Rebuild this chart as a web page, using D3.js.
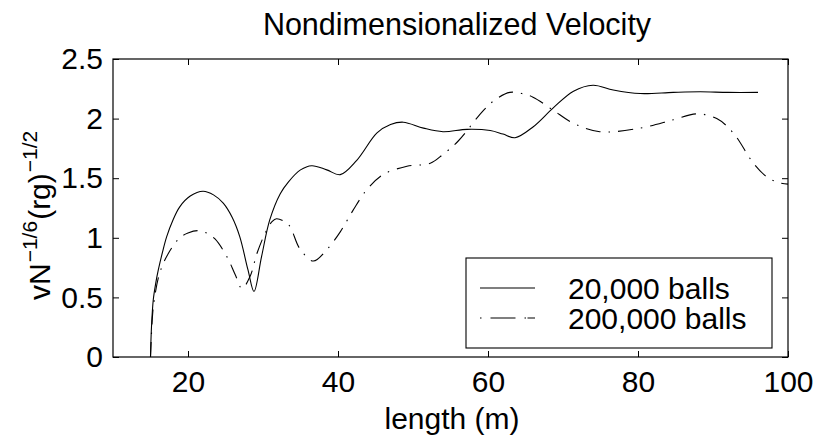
<!DOCTYPE html>
<meta charset="utf-8">
<style>
body { margin: 0; background: #fff; }
text { font-family: "Liberation Sans", Arial, sans-serif; fill: #000; }
</style>
<svg width="820" height="443"></svg>
<script src="https://cdn.jsdelivr.net/npm/d3@7"></script>
<script>

// 20,000 balls (solid)
var lenA = [15, 15.13, 15.37, 15.7, 16.04, 16.6, 17.16, 18.0, 18.9, 20.3, 22.0, 23.4, 24.7, 25.9, 26.9, 28.0, 28.8, 29.8, 30.9, 32.3, 33.4, 35.0, 36.5, 38.5, 40.3, 42.5, 45.2, 47.0, 48.7, 51.4, 54.0, 57.2, 60.3, 62.0, 63.6, 66.0, 68.7, 71.4, 74.0, 76.7, 80.3, 84.7, 88.3, 92, 96.0];
var velA = [0, 0.25, 0.48, 0.62, 0.73, 0.88, 1.01, 1.15, 1.26, 1.35, 1.39, 1.36, 1.29, 1.17, 1.01, 0.73, 0.55, 0.84, 1.15, 1.37, 1.47, 1.57, 1.605, 1.57, 1.53, 1.65, 1.88, 1.95, 1.97, 1.92, 1.89, 1.91, 1.90, 1.87, 1.84, 1.93, 2.09, 2.23, 2.28, 2.24, 2.21, 2.22, 2.225, 2.22, 2.22];

// 200,000 balls (dash-dot)
var lenB = [15, 15.26, 15.5, 16.2, 17.3, 18.9, 20.0, 21.3, 22.5, 23.6, 25.2, 26.3, 27.2, 28.3, 29.2, 30.3, 31.2, 31.8, 33.4, 34.9, 36.7, 38.5, 40.3, 42.0, 43.8, 46.0, 49.2, 52.3, 54.0, 56.0, 59.4, 61.0, 62.9, 64.5, 66.0, 68.7, 71.4, 74.9, 80.3, 84.7, 87.8, 90.5, 92.7, 95.4, 97.2, 98.9, 100];
var velB = [0, 0.34, 0.48, 0.70, 0.86, 1.0, 1.04, 1.06, 1.04, 0.99, 0.84, 0.69, 0.575, 0.68, 0.87, 1.04, 1.135, 1.16, 1.11, 0.91, 0.805, 0.90, 1.05, 1.23, 1.40, 1.53, 1.60, 1.625, 1.70, 1.81, 2.07, 2.16, 2.22, 2.21, 2.18, 2.07, 1.96, 1.89, 1.92, 1.99, 2.04, 2.00, 1.88, 1.625, 1.51, 1.46, 1.45];

var xTicks = [20, 40, 60, 80, 100];
var yTicks = [0, 0.5, 1, 1.5, 2, 2.5];
var seriesNames = ["20,000 balls", "200,000 balls"];

var svg = d3.select("svg"),
    pl = 113, pr = 788, pt = 59, pb = 357;

var x = d3.scaleLinear().domain([10, 100]).range([pl, pr]);
var y = d3.scaleLinear().domain([0, 2.5]).range([pb, pt]);

var dashDot = "15,8,1.5,8";

function pairs(xs, ys) {
  return xs.map(function(v, i) { return [v, ys[i]]; });
}

var line = d3.line()
    .x(function(d) { return x(d[0]); })
    .y(function(d) { return y(d[1]); })
    .curve(d3.curveCatmullRom.alpha(0.5));

svg.append("path")
    .attr("d", line(pairs(lenA, velA)))
    .attr("fill", "none")
    .attr("stroke", "#000")
    .attr("stroke-width", 1.1);

svg.append("path")
    .attr("d", line(pairs(lenB, velB)))
    .attr("fill", "none")
    .attr("stroke", "#000")
    .attr("stroke-width", 1.1)
    .attr("stroke-dasharray", dashDot);

// axes, ticks inward, mirrored on top and right
var tl = 6;
svg.append("g").attr("transform", "translate(0," + pb + ")")
    .call(d3.axisBottom(x).tickValues(xTicks).tickSizeInner(-tl).tickSizeOuter(0).tickPadding(14))
    .call(function(g) { g.select(".domain").remove(); g.selectAll("text").attr("font-size", 30).attr("font-family", null); });
svg.append("g").attr("transform", "translate(0," + pt + ")")
    .call(d3.axisTop(x).tickValues(xTicks).tickSizeInner(-tl).tickSizeOuter(0).tickFormat(""))
    .call(function(g) { g.select(".domain").remove(); });
svg.append("g").attr("transform", "translate(" + pl + ",0)")
    .call(d3.axisLeft(y).tickValues(yTicks).tickSizeInner(-tl).tickSizeOuter(0).tickPadding(10).tickFormat(d3.format("")))
    .call(function(g) { g.select(".domain").remove(); g.selectAll("text").attr("font-size", 30).attr("font-family", null); });
svg.append("g").attr("transform", "translate(" + pr + ",0)")
    .call(d3.axisRight(y).tickValues(yTicks).tickSizeInner(-tl).tickSizeOuter(0).tickFormat(""))
    .call(function(g) { g.select(".domain").remove(); });

svg.selectAll(".tick line").attr("stroke", "#000");

svg.append("rect")
    .attr("x", pl).attr("y", pt)
    .attr("width", pr - pl).attr("height", pb - pt)
    .attr("fill", "none").attr("stroke", "#000").attr("stroke-width", 1.2);

// title and axis labels
svg.append("text")
    .attr("x", 457).attr("y", 35)
    .attr("text-anchor", "middle").attr("font-size", 30.5)
    .text("Nondimensionalized Velocity");

svg.append("text")
    .attr("x", 452).attr("y", 429)
    .attr("text-anchor", "middle").attr("font-size", 30)
    .text("length (m)");

var yl = svg.append("text")
    .attr("transform", "translate(50,300) rotate(-90)")
    .attr("font-size", 30);
yl.append("tspan").text("vN");
yl.append("tspan").attr("dy", -13).attr("dx", 1).attr("font-size", 21).text("\u22121/6");
yl.append("tspan").attr("dy", 13).attr("dx", 1).text("(rg)");
yl.append("tspan").attr("dy", -13).attr("dx", 1).attr("font-size", 21).text("\u22121/2");

// legend
var lg = svg.append("g");
lg.append("rect")
    .attr("x", 466).attr("y", 258).attr("width", 306).attr("height", 90)
    .attr("fill", "#fff").attr("stroke", "#000").attr("stroke-width", 1.1);
seriesNames.forEach(function(name, i) {
  var yy = 288 + i * 30;
  lg.append("line")
      .attr("x1", 480).attr("x2", 535).attr("y1", yy).attr("y2", yy)
      .attr("stroke", "#000").attr("stroke-width", 1.1)
      .attr("stroke-dasharray", i === 1 ? "1.5,9,25,9,1.5" : null);
  lg.append("text")
      .attr("x", 568).attr("y", yy + 11)
      .attr("font-size", 30)
      .text(name);
});

</script>
